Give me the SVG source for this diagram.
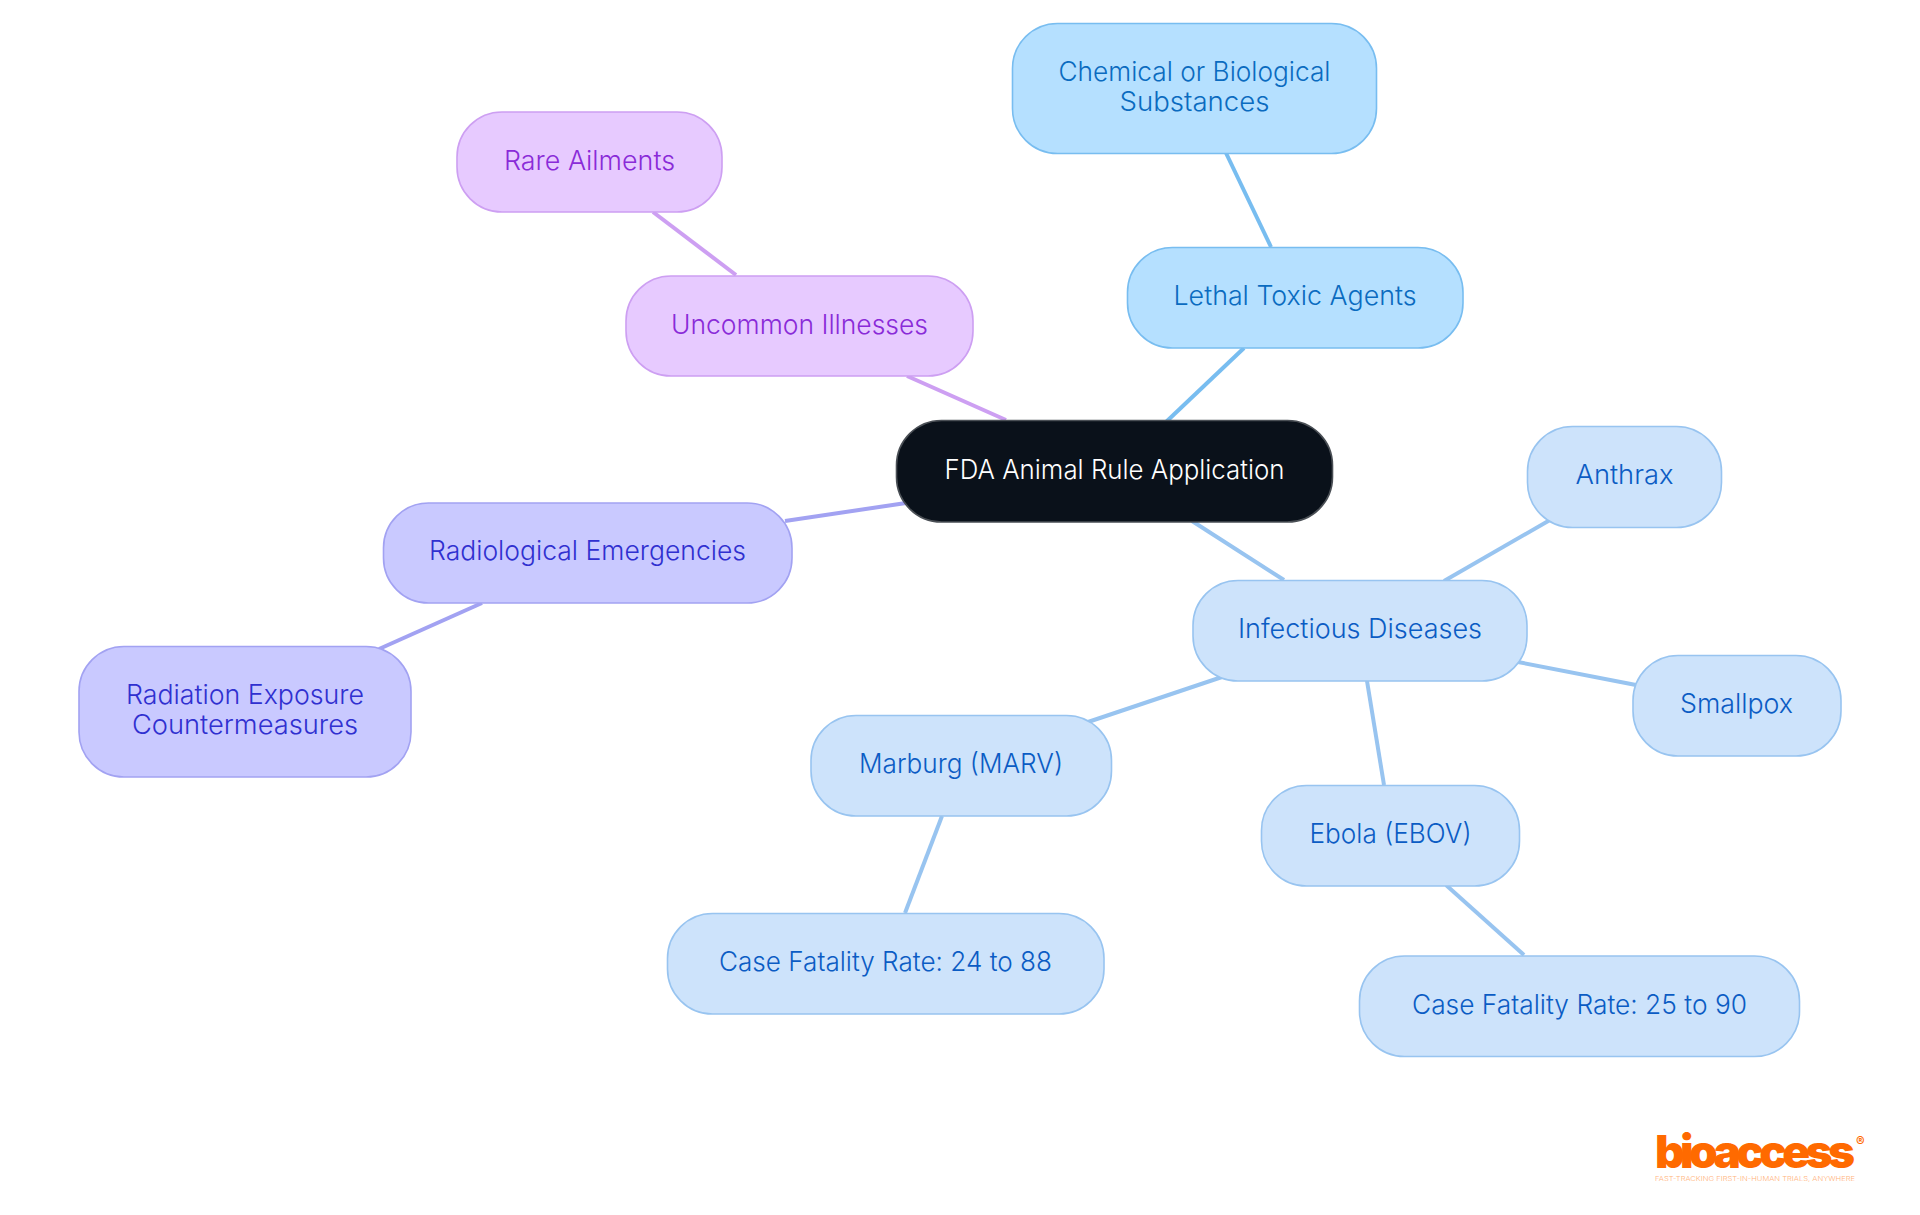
<svg xmlns="http://www.w3.org/2000/svg" width="1920" height="1215" viewBox="0 0 1920 1215">
<style>
text{font-family:Inter,"Noto Sans","Liberation Sans",sans-serif;font-size:27px;font-weight:350;text-anchor:middle}
rect{stroke-width:1.6}
.c line{stroke-width:4;stroke-linecap:butt}
.lb line{stroke:#98c4f0}.sb line{stroke:#78bdf0}.pu line{stroke:#cd9ff2}.in line{stroke:#a2a2f2}
.lb rect{fill:#cde3fb;stroke:#98c4f0}.lb text{fill:#0b5cc4}
.sb rect{fill:#b5e0ff;stroke:#78bdf0}.sb text{fill:#0a6bc0}
.pu rect{fill:#e7caff;stroke:#cd9ff2}.pu text{fill:#8a2bd8}
.in rect{fill:#c9c9ff;stroke:#a2a2f2}.in text{fill:#3030d0}
.root rect{fill:#0a111a;stroke:#4a4f55}.root text{fill:#fff}
</style>
<rect width="1920" height="1215" fill="#fff" stroke="none"/>
<g id="connectors" class="c">
<g class="sb"><line x1="1166" y1="422" x2="1244" y2="348"/><line x1="1271" y1="247" x2="1226" y2="153"/></g>
<g class="pu"><line x1="1006" y1="420" x2="907" y2="376"/><line x1="736" y1="275" x2="653" y2="212"/></g>
<g class="in"><line x1="906" y1="503" x2="785" y2="521"/><line x1="482" y1="603" x2="379" y2="649"/></g>
<g class="lb"><line x1="1192" y1="521" x2="1284" y2="580"/><line x1="1444" y1="581" x2="1550" y2="520"/><line x1="1518" y1="662" x2="1636" y2="685"/><line x1="1367" y1="681" x2="1384" y2="785"/><line x1="1222" y1="677" x2="1088" y2="722"/><line x1="942" y1="816" x2="905" y2="913"/><line x1="1446" y1="885" x2="1524" y2="955"/></g>
</g>
<g id="root" class="root"><rect x="896.500" y="420.500" width="436" height="101.500" rx="45"/><text x="1114.500" y="479" textLength="340" lengthAdjust="spacingAndGlyphs">FDA Animal Rule Application</text></g>
<g id="lethal" class="sb"><rect x="1127.500" y="247.500" width="335.500" height="100.500" rx="45"/><text x="1295" y="305" textLength="243" lengthAdjust="spacingAndGlyphs">Lethal Toxic Agents</text></g>
<g id="chem" class="sb"><rect x="1012.500" y="23.500" width="364" height="130" rx="45"/><text x="1194.500" y="81" textLength="272" lengthAdjust="spacingAndGlyphs">Chemical or Biological</text><text x="1194.500" y="111" textLength="150" lengthAdjust="spacingAndGlyphs">Substances</text></g>
<g id="uncommon" class="pu"><rect x="626" y="276" width="347" height="100" rx="45"/><text x="799.500" y="334" textLength="257" lengthAdjust="spacingAndGlyphs">Uncommon Illnesses</text></g>
<g id="rare" class="pu"><rect x="457" y="112" width="265" height="100" rx="45"/><text x="589.500" y="169.500" textLength="171" lengthAdjust="spacingAndGlyphs">Rare Ailments</text></g>
<g id="radiological" class="in"><rect x="383.500" y="503" width="408.500" height="100" rx="45"/><text x="587.500" y="560" textLength="317" lengthAdjust="spacingAndGlyphs">Radiological Emergencies</text></g>
<g id="radiation" class="in"><rect x="79" y="646.500" width="332" height="130.500" rx="45"/><text x="245" y="704" textLength="238" lengthAdjust="spacingAndGlyphs">Radiation Exposure</text><text x="245" y="734" textLength="226" lengthAdjust="spacingAndGlyphs">Countermeasures</text></g>
<g id="infectious" class="lb"><rect x="1193" y="580.500" width="334" height="100.500" rx="45"/><text x="1360" y="638" textLength="244" lengthAdjust="spacingAndGlyphs">Infectious Diseases</text></g>
<g id="anthrax" class="lb"><rect x="1527.500" y="426.500" width="194" height="101" rx="45"/><text x="1624.500" y="484" textLength="98" lengthAdjust="spacingAndGlyphs">Anthrax</text></g>
<g id="smallpox" class="lb"><rect x="1633" y="655.500" width="208" height="100.500" rx="45"/><text x="1736.500" y="713" textLength="113" lengthAdjust="spacingAndGlyphs">Smallpox</text></g>
<g id="ebola" class="lb"><rect x="1261.500" y="785.500" width="258" height="100.500" rx="45"/><text x="1390.500" y="843" textLength="162" lengthAdjust="spacingAndGlyphs">Ebola (EBOV)</text></g>
<g id="marburg" class="lb"><rect x="811" y="715.500" width="300.500" height="100.500" rx="45"/><text x="961" y="773" textLength="204" lengthAdjust="spacingAndGlyphs">Marburg (MARV)</text></g>
<g id="cfr24" class="lb"><rect x="667.500" y="913.500" width="436.500" height="100.500" rx="45"/><text x="885.500" y="971" textLength="333" lengthAdjust="spacingAndGlyphs">Case Fatality Rate: 24 to 88</text></g>
<g id="cfr25" class="lb"><rect x="1359.500" y="956" width="440" height="100.500" rx="45"/><text x="1579.500" y="1014" textLength="335" lengthAdjust="spacingAndGlyphs">Case Fatality Rate: 25 to 90</text></g>
<g id="logo">
<text x="1655" y="1168" textLength="200" lengthAdjust="spacing" style="font-size:46px;font-weight:900;fill:#ff6a00;text-anchor:start">bioaccess</text>
<text x="1856" y="1146" style="font-size:13px;font-weight:700;fill:#ff6a00;text-anchor:start">®</text>
<text x="1655" y="1181" textLength="200" lengthAdjust="spacingAndGlyphs" style="font-size:6px;fill:#ffb27a;text-anchor:start">FAST-TRACKING FIRST-IN-HUMAN TRIALS, ANYWHERE</text>
</g>
</svg>
